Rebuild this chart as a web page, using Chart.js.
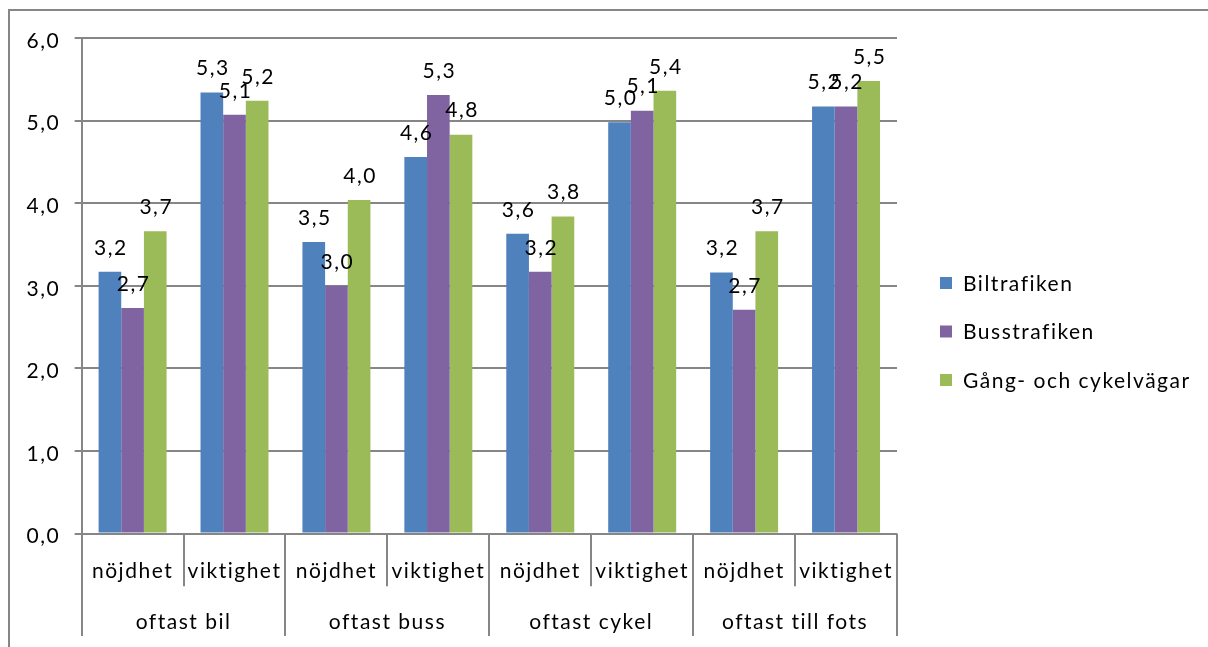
<!DOCTYPE html>
<html>
<head>
<meta charset="utf-8">
<script src="https://cdn.jsdelivr.net/npm/chart.js@4.4.1/dist/chart.umd.min.js"></script>
<style>
html, body { margin: 0; padding: 0; background: #fff; }
#wrap { width: 1208px; height: 647px; position: relative; }
</style>
</head>
<body>
<div id="wrap"><canvas id="myChart" width="1208" height="647"></canvas></div>
<script>
const categories = ['nöjdhet', 'viktighet', 'nöjdhet', 'viktighet', 'nöjdhet', 'viktighet', 'nöjdhet', 'viktighet'];
const groups = ['oftast bil', 'oftast buss', 'oftast cykel', 'oftast till fots'];
const seriesNames = ['Biltrafiken', 'Busstrafiken', 'Gång- och cykelvägar'];
const biltrafiken = [3.17, 5.34, 3.53, 4.56, 3.63, 4.98, 3.16, 5.17];
const busstrafiken = [2.73, 5.07, 3.00, 5.31, 3.17, 5.12, 2.71, 5.17];
const gangCykel = [3.66, 5.24, 4.04, 4.83, 3.84, 5.36, 3.66, 5.48];
const yMin = 0;
const yMax = 6;
const yStep = 1;

const colors = ['#4F81BD', '#8064A2', '#9BBB59'];
const lineGray = '#868686';
const fontFamily = 'Lato, "Open Sans", sans-serif';
const fontSize = 21;
const spacing = '1.5px';

function fmt(v) {
    return v.toFixed(1).replace('.', ',');
}

// frame, category dividers, value labels and legend
const extras = {
    id: 'extras',
    beforeUpdate(chart) {
        chart.ctx.letterSpacing = spacing;
    },
    beforeDraw(chart) {
        const ctx = chart.ctx;
        ctx.letterSpacing = spacing;
        ctx.save();
        ctx.strokeStyle = lineGray;
        ctx.lineWidth = 2;
        ctx.beginPath();
        ctx.moveTo(9, chart.height);
        ctx.lineTo(9, 10);
        ctx.lineTo(chart.width, 10);
        ctx.stroke();
        ctx.restore();
    },
    afterDraw(chart) {
        const ctx = chart.ctx;
        const x = chart.scales.x;
        const x2 = chart.scales.x2;
        const half = (x.getPixelForValue(1) - x.getPixelForValue(0)) / 2;
        ctx.save();
        ctx.strokeStyle = lineGray;
        ctx.lineWidth = 2;
        for (let i = 0; i <= categories.length; i++) {
            const px = Math.round(x.getPixelForValue(0) - half + i * half * 2);
            ctx.beginPath();
            ctx.moveTo(px, x.top);
            ctx.lineTo(px, i % 2 === 0 ? x2.bottom : x.top + (x.bottom - x.top) * 0.7);
            ctx.stroke();
        }

        // legend
        const area = chart.chartArea;
        const lx = area.right + 43;
        let ly = area.top + 245;
        ctx.font = fontSize + 'px ' + fontFamily;
        ctx.textAlign = 'left';
        ctx.textBaseline = 'middle';
        chart.data.datasets.forEach((ds) => {
            ctx.fillStyle = ds.backgroundColor;
            ctx.fillRect(lx, ly - 6, 12, 12);
            ctx.fillStyle = '#000';
            ctx.fillText(ds.label, lx + 23, ly + 1);
            ly += 48.5;
        });
        ctx.restore();
    },
    afterDatasetsDraw(chart) {
        const ctx = chart.ctx;
        ctx.save();
        ctx.font = fontSize + 'px ' + fontFamily;
        ctx.fillStyle = '#000';
        ctx.textAlign = 'center';
        ctx.textBaseline = 'middle';
        chart.data.datasets.forEach((ds, di) => {
            chart.getDatasetMeta(di).data.forEach((bar, i) => {
                ctx.fillText(fmt(ds.data[i]), bar.x + 1, bar.y - 24);
            });
        });
        ctx.restore();
    }
};

const ctx = document.getElementById('myChart');

new Chart(ctx, {
    type: 'bar',
    data: {
        labels: categories,
        datasets: [
            { label: seriesNames[0], data: biltrafiken, backgroundColor: colors[0] },
            { label: seriesNames[1], data: busstrafiken, backgroundColor: colors[1] },
            { label: seriesNames[2], data: gangCykel, backgroundColor: colors[2] }
        ]
    },
    options: {
        responsive: false,
        animation: false,
        devicePixelRatio: 1,
        layout: { padding: { left: 12, top: 38, right: 311, bottom: 11 } },
        datasets: { bar: { categoryPercentage: 0.667, barPercentage: 1 } },
        font: { family: fontFamily, size: fontSize },
        color: '#000',
        plugins: {
            legend: { display: false },
            tooltip: { enabled: false }
        },
        scales: {
            y: {
                min: yMin,
                max: yMax,
                ticks: {
                    stepSize: yStep,
                    padding: 14.5,
                    labelOffset: 3,
                    color: '#000',
                    font: { family: fontFamily, size: fontSize },
                    callback: (v) => fmt(v)
                },
                grid: { color: lineGray, lineWidth: 2, tickLength: 7, tickColor: lineGray },
                border: { display: true, color: lineGray, width: 2 }
            },
            x: {
                grid: { display: false, drawTicks: false },
                border: { display: false },
                ticks: {
                    padding: 25,
                    color: '#000',
                    font: { family: fontFamily, size: fontSize },
                    maxRotation: 0,
                    autoSkip: false
                }
            },
            x2: {
                type: 'category',
                labels: groups,
                position: 'bottom',
                offset: true,
                grid: { display: false, drawTicks: false },
                border: { display: false },
                ticks: {
                    padding: 1,
                    color: '#000',
                    font: { family: fontFamily, size: fontSize },
                    maxRotation: 0,
                    autoSkip: false
                }
            }
        }
    },
    plugins: [extras]
});
</script>
</body>
</html>
